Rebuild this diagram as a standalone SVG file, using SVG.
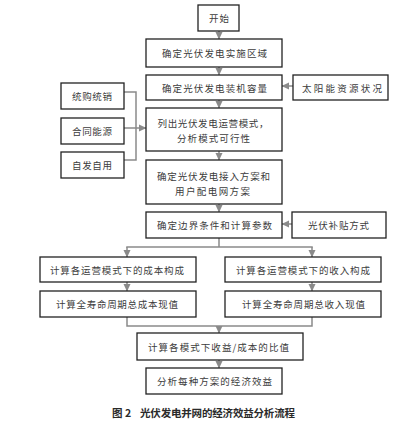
<svg xmlns="http://www.w3.org/2000/svg" width="418" height="428" viewBox="0 0 418 428">
<defs>
<marker id="arr" markerWidth="8" markerHeight="8" refX="7" refY="4" orient="auto" markerUnits="userSpaceOnUse">
<path d="M0,0.5 L7.5,4 L0,7.5 Z" fill="#8a8a8a"/>
</marker>
<style>
.box{fill:#fff;stroke:#222;stroke-width:1.3}
.t{font-family:"Noto Sans CJK SC","Liberation Serif",serif;font-size:9.5px;fill:#3c3c3c;text-anchor:middle;dominant-baseline:central}
.c{fill:none;stroke:#8a8a8a;stroke-width:1.5}
.cap{font-family:"Noto Sans CJK SC","Liberation Sans",sans-serif;font-size:10.5px;font-weight:bold;fill:#2a2a2a;dominant-baseline:central}
</style>
</defs>
<rect width="418" height="428" fill="#fff"/>
<g id="connectors">
<line class="c" x1="219" y1="31" x2="219" y2="39" marker-end="url(#arr)"/>
<line class="c" x1="219" y1="67" x2="219" y2="75" marker-end="url(#arr)"/>
<line class="c" x1="293" y1="86" x2="282" y2="86" marker-end="url(#arr)"/>
<line class="c" x1="219" y1="100" x2="219" y2="108" marker-end="url(#arr)"/>
<polyline class="c" points="124,92 136,92 136,160 124,160"/>
<line class="c" x1="124" y1="128" x2="136" y2="128"/>
<line class="c" x1="136" y1="128" x2="146" y2="128" marker-end="url(#arr)"/>
<line class="c" x1="219" y1="151" x2="219" y2="160" marker-end="url(#arr)"/>
<line class="c" x1="219" y1="204" x2="219" y2="212" marker-end="url(#arr)"/>
<line class="c" x1="292" y1="224" x2="282" y2="224" marker-end="url(#arr)"/>
<line class="c" x1="219" y1="238" x2="219" y2="247"/>
<line class="c" x1="126.25" y1="247" x2="312.75" y2="247"/>
<line class="c" x1="127" y1="247" x2="127" y2="257" marker-end="url(#arr)"/>
<line class="c" x1="312" y1="247" x2="312" y2="257" marker-end="url(#arr)"/>
<line class="c" x1="127" y1="282" x2="127" y2="291" marker-end="url(#arr)"/>
<line class="c" x1="312" y1="282" x2="312" y2="291" marker-end="url(#arr)"/>
<polyline class="c" points="127,317 127,326 312,326 312,317"/>
<line class="c" x1="219" y1="326" x2="219" y2="333" marker-end="url(#arr)"/>
<line class="c" x1="219" y1="360" x2="219" y2="368" marker-end="url(#arr)"/>
</g>
<g id="n1"><rect class="box" x="198" y="5" width="41" height="26"/><text class="t" x="219" y="18" textLength="20" lengthAdjust="spacing">开始</text></g>
<g id="n2"><rect class="box" x="146" y="39" width="136" height="28"/><text class="t" x="214.5" y="53" textLength="105" lengthAdjust="spacing">确定光伏发电实施区域</text></g>
<g id="n3"><rect class="box" x="146" y="75" width="136" height="25"/><text class="t" x="214.5" y="87.5" textLength="105" lengthAdjust="spacing">确定光伏发电装机容量</text></g>
<g id="n4"><rect class="box" x="293" y="75" width="95" height="25"/><text class="t" x="342" y="87.5" textLength="80" lengthAdjust="spacing">太阳能资源状况</text></g>
<g id="n5"><rect class="box" x="61" y="83" width="63" height="26"/><text class="t" x="92" y="96" textLength="40" lengthAdjust="spacing">统购统销</text></g>
<g id="n6"><rect class="box" x="61" y="118" width="63" height="26"/><text class="t" x="92" y="131" textLength="40" lengthAdjust="spacing">合同能源</text></g>
<g id="n7"><rect class="box" x="61" y="152" width="63" height="26"/><text class="t" x="92" y="165" textLength="40" lengthAdjust="spacing">自发自用</text></g>
<g id="n8"><rect class="box" x="146" y="108" width="136" height="43"/><text class="t" x="213" y="123" textLength="111" lengthAdjust="spacing">列出光伏发电运营模式，</text><text class="t" x="213.5" y="138" textLength="73" lengthAdjust="spacing">分析模式可行性</text></g>
<g id="n9"><rect class="box" x="146" y="160" width="136" height="44"/><text class="t" x="213.5" y="176" textLength="113" lengthAdjust="spacing">确定光伏发电接入方案和</text><text class="t" x="212.5" y="191" textLength="75" lengthAdjust="spacing">用户配电网方案</text></g>
<g id="n10"><rect class="box" x="146" y="212" width="136" height="26"/><text class="t" x="214.5" y="225" textLength="115" lengthAdjust="spacing">确定边界条件和计算参数</text></g>
<g id="n11"><rect class="box" x="292" y="212" width="94" height="26"/><text class="t" x="338.5" y="225" textLength="61" lengthAdjust="spacing">光伏补贴方式</text></g>
<g id="n12"><rect class="box" x="40" y="257" width="156" height="25"/><text class="t" x="117" y="269.5" textLength="134" lengthAdjust="spacing">计算各运营模式下的成本构成</text></g>
<g id="n13"><rect class="box" x="225" y="257" width="156" height="25"/><text class="t" x="303" y="269.5" textLength="134" lengthAdjust="spacing">计算各运营模式下的收入构成</text></g>
<g id="n14"><rect class="box" x="40" y="291" width="156" height="26"/><text class="t" x="117" y="304" textLength="122" lengthAdjust="spacing">计算全寿命周期总成本现值</text></g>
<g id="n15"><rect class="box" x="225" y="291" width="156" height="26"/><text class="t" x="303.5" y="304" textLength="123" lengthAdjust="spacing">计算全寿命周期总收入现值</text></g>
<g id="n16"><rect class="box" x="137" y="333" width="166" height="27"/><text class="t" x="218.5" y="346.5" textLength="141" lengthAdjust="spacing">计算各模式下收益/成本的比值</text></g>
<g id="n17"><rect class="box" x="146" y="368" width="136" height="26"/><text class="t" x="214.5" y="381" textLength="115" lengthAdjust="spacing">分析每种方案的经济效益</text></g>
<text class="cap" x="112" y="412">图 2</text>
<text class="cap" x="140" y="412" textLength="155" lengthAdjust="spacing">光伏发电并网的经济效益分析流程</text>
</svg>
